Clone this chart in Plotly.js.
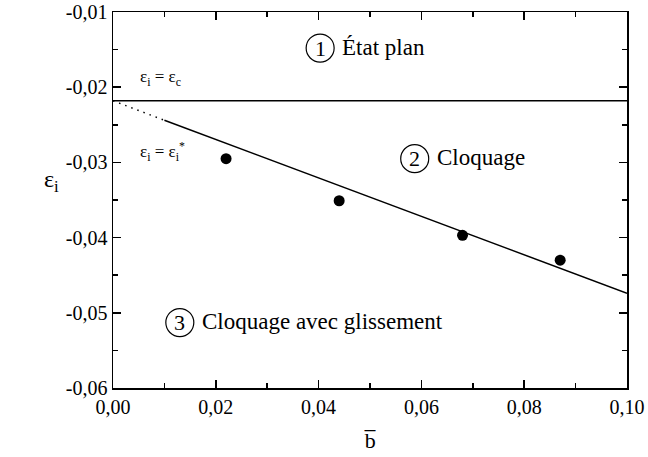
<!DOCTYPE html>
<html>
<head>
<meta charset="utf-8">
<script src="https://cdn.plot.ly/plotly-3.0.1.min.js"></script>
<style>
  html, body { margin: 0; padding: 0; background: #fff; font-family: 'Liberation Serif', serif; }
  #chart { width: 648px; height: 457px; }
  #chart text { font-family: 'Liberation Serif', serif !important; }
</style>
</head>
<body>
<div id="chart"></div>
<script>
// Measured points (b̄, ε_i)
const bMeasured = [0.022, 0.044, 0.068, 0.087];
const epsMeasured = [-0.0295, -0.0351, -0.0397, -0.0430];

// Critical strain ε_c (plane state limit)
const epsCritical = -0.0218;
const bRange = [0, 0.10];

// Buckling-with-slip limit ε_i = ε_i*, extrapolated part then fitted part
const bExtrap = [0.00, 0.01];
const epsExtrap = [-0.0218, -0.0244];
const bFit = [0.01, 0.10];
const epsFit = [-0.0244, -0.0474];

// Axis ticks
const xTickVals = [0, 0.02, 0.04, 0.06, 0.08, 0.10];
const xTickText = ['0,00', '0,02', '0,04', '0,06', '0,08', '0,10'];
const yTickVals = [-0.06, -0.05, -0.04, -0.03, -0.02, -0.01];
const yTickText = ['-0,06', '-0,05', '-0,04', '-0,03', '-0,02', '-0,01'];

const FONT = 'Liberation Serif';

const traces = [
  {
    x: bRange, y: [epsCritical, epsCritical],
    mode: 'lines', line: {color: '#000', width: 1.5},
    hoverinfo: 'skip', showlegend: false
  },
  {
    x: bExtrap, y: epsExtrap,
    mode: 'lines', line: {color: '#000', width: 1.5, dash: '1.5px,5px'},
    hoverinfo: 'skip', showlegend: false
  },
  {
    x: bFit, y: epsFit,
    mode: 'lines', line: {color: '#000', width: 1.5},
    hoverinfo: 'skip', showlegend: false
  },
  {
    x: bMeasured, y: epsMeasured,
    mode: 'markers', marker: {color: '#000', size: 11, symbol: 'circle'},
    showlegend: false
  }
];

// Region labels: circled number + text
function circle(xv, yv) {
  return {
    type: 'circle', xref: 'x', yref: 'y',
    xsizemode: 'pixel', ysizemode: 'pixel',
    xanchor: xv, yanchor: yv,
    x0: -14, x1: 14, y0: -14, y1: 14,
    line: {color: '#000', width: 1.2}
  };
}

const regions = [
  {num: '1', text: 'État plan', x: 0.0403, y: -0.0148},
  {num: '2', text: 'Cloquage', x: 0.0587, y: -0.0295},
  {num: '3', text: 'Cloquage avec glissement', x: 0.0130, y: -0.0513}
];

function font(size) {
  return {family: FONT, size: size, color: '#000'};
}

const shapes = regions.map(r => circle(r.x, r.y));
const annotations = [];
regions.forEach(r => {
  annotations.push({
    x: r.x, y: r.y, xref: 'x', yref: 'y', text: r.num, showarrow: false,
    font: font(22), xanchor: 'center', yanchor: 'middle'
  });
  annotations.push({
    x: r.x, y: r.y, xref: 'x', yref: 'y', text: r.text, showarrow: false,
    xshift: 20, yshift: 1,
    font: font(23), xanchor: 'left', yanchor: 'middle'
  });
});

annotations.push({
  x: 0.0048, y: -0.0188, xref: 'x', yref: 'y', showarrow: false,
  text: 'ε<sub>i</sub> = ε<sub>c</sub>', xanchor: 'left', yanchor: 'middle',
  font: font(17)
});
annotations.push({
  x: 0.0048, y: -0.0285, xref: 'x', yref: 'y', showarrow: false,
  text: 'ε<sub>i</sub> = ε<sub>i</sub><sup>*</sup>', xanchor: 'left', yanchor: 'middle',
  font: font(17)
});
// Axis titles
annotations.push({
  x: 0, y: -0.0325, xref: 'paper', yref: 'y', showarrow: false, xshift: -62,
  text: 'ε<sub>i</sub>', xanchor: 'center', yanchor: 'middle',
  font: font(24)
});
annotations.push({
  x: 0.5, y: 0, xref: 'paper', yref: 'paper', showarrow: false, yshift: -52,
  text: 'b\u0305', xanchor: 'center', yanchor: 'middle',
  font: font(22)
});

function axis(extra) {
  return Object.assign({
    showgrid: false, zeroline: false,
    showline: true, linecolor: '#000', linewidth: 1.5, mirror: 'allticks',
    ticks: 'inside', ticklen: 8, tickwidth: 1.5, tickcolor: '#000',
    tickmode: 'array',
    tickfont: font(20),
    fixedrange: true
  }, extra);
}

const layout = {
  width: 648, height: 457,
  margin: {l: 113, r: 21, t: 12, b: 69},
  paper_bgcolor: '#fff', plot_bgcolor: '#fff',
  font: font(14),
  xaxis: axis({
    range: bRange, tickvals: xTickVals, ticktext: xTickText,
    minor: {dtick: 0.01, tick0: 0, ticks: 'inside', ticklen: 5, tickwidth: 1.5, tickcolor: '#000'}
  }),
  yaxis: axis({
    range: [-0.06, -0.01], tickvals: yTickVals, ticktext: yTickText,
    minor: {dtick: 0.005, tick0: 0, ticks: 'inside', ticklen: 5, tickwidth: 1.5, tickcolor: '#000'}
  }),
  shapes: shapes,
  annotations: annotations,
  showlegend: false
};

function draw() {
  Plotly.newPlot('chart', traces, layout, {displayModeBar: false, staticPlot: true});
}

// Make sure the serif face is ready before text is measured and drawn
if (document.fonts && document.fonts.load) {
  document.fonts.load('20px "Liberation Serif"', 'Cloquage ε 0,02').then(draw, draw);
} else {
  draw();
}
</script>
</body>
</html>
